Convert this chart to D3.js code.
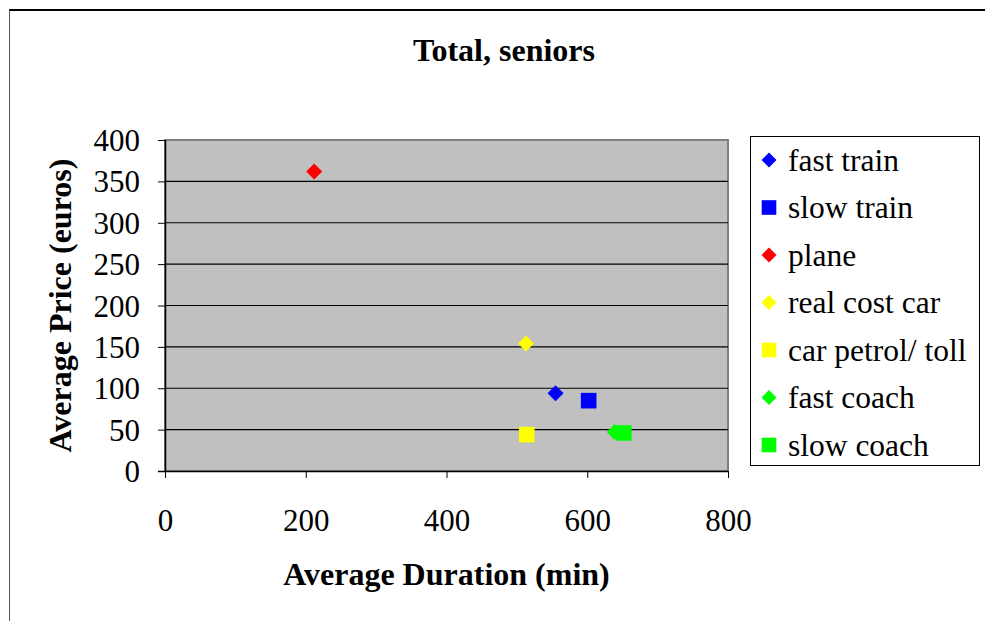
<!DOCTYPE html>
<html>
<head>
<meta charset="utf-8">
<script src="https://cdn.jsdelivr.net/npm/d3@7"></script>
<style>
  body { margin: 0; background: #fff; }
  svg { display: block; font-family: "Liberation Serif", "Times New Roman", serif; }
</style>
</head>
<body>
<svg id="chart" width="985" height="621"></svg>
<script>
// series, in legend order
var seriesNames = ["fast train", "slow train", "plane", "real cost car", "car petrol/ toll", "fast coach", "slow coach"];
var seriesColors = ["#0000ff", "#0000ff", "#ff0000", "#ffff00", "#ffff00", "#00ff00", "#00ff00"];
var seriesShapes = ["diamond", "square", "diamond", "diamond", "square", "diamond", "square"];
// average duration (min) and price (euros)
var durations = [555, 602, 212, 513, 514, 639, 652];
var prices = [94, 85, 362, 154, 44, 47, 46];

var xTicks = [0, 200, 400, 600, 800];
var yTicks = [0, 50, 100, 150, 200, 250, 300, 350, 400];

var svg = d3.select("#chart");

// outer frame
svg.append("line").attr("x1", 9).attr("x2", 985).attr("y1", 10).attr("y2", 10)
    .attr("stroke", "#000").attr("stroke-width", 2);
svg.append("line").attr("x1", 9.5).attr("x2", 9.5).attr("y1", 10).attr("y2", 621)
    .attr("stroke", "#555").attr("stroke-width", 1);

var plot = { left: 165, right: 728, top: 140, bottom: 471 };

var x = d3.scaleLinear().domain([0, 800]).range([plot.left, plot.right]);
var y = d3.scaleLinear().domain([0, 400]).range([plot.bottom, plot.top]);

// plot background
svg.append("rect")
    .attr("x", plot.left).attr("y", plot.top)
    .attr("width", plot.right - plot.left).attr("height", plot.bottom - plot.top)
    .attr("fill", "#c0c0c0")
    .attr("stroke", "#808080").attr("stroke-width", 2);

// gridlines
svg.append("g").selectAll("line")
    .data(yTicks.filter(function(d) { return d > 0 && d < 400; }))
    .enter().append("line")
    .attr("x1", plot.left).attr("x2", plot.right)
    .attr("y1", function(d) { return y(d); }).attr("y2", function(d) { return y(d); })
    .attr("stroke", "#000").attr("stroke-width", 1.2);

// axes
var xAxis = svg.append("g")
    .attr("transform", "translate(0," + plot.bottom + ")")
    .call(d3.axisBottom(x).tickValues(xTicks).tickSize(7).tickPadding(31).tickFormat(d3.format("d")));
var yAxis = svg.append("g")
    .attr("transform", "translate(" + plot.left + ",0)")
    .call(d3.axisLeft(y).tickValues(yTicks).tickSize(7).tickPadding(18).tickFormat(d3.format("d")));

[xAxis, yAxis].forEach(function(a) {
    a.select(".domain").attr("stroke", "#000").attr("stroke-width", 1.5);
    a.selectAll(".tick line").attr("stroke", "#000").attr("stroke-width", 1);
    a.selectAll(".tick text")
        .attr("font-family", "Liberation Serif, Times New Roman, serif")
        .attr("font-size", 31).attr("fill", "#000");
});
// plain axis lines instead of d3's outer-tick path
xAxis.select(".domain").attr("d", "M" + (plot.left - 7) + ",0.5H" + plot.right);
yAxis.select(".domain").attr("d", "M0.5," + plot.top + "V" + plot.bottom);
yAxis.selectAll(".tick text").attr("dy", "0.34em");

// marker shapes
function markerPath(shape, s) {
    if (shape === "diamond") {
        return "M0," + (-s) + "L" + s + ",0L0," + s + "L" + (-s) + ",0Z";
    }
    return d3.symbol().type(d3.symbolSquare).size(4 * s * s * 0.95)();
}

var points = seriesNames.map(function(name, i) {
    return { name: name, color: seriesColors[i], shape: seriesShapes[i], dur: durations[i], price: prices[i] };
});

svg.append("g").selectAll("path")
    .data(points)
    .enter().append("path")
    .attr("transform", function(d) { return "translate(" + x(d.dur) + "," + y(d.price) + ")"; })
    .attr("d", function(d) { return markerPath(d.shape, 8); })
    .attr("fill", function(d) { return d.color; });

// title and axis titles
svg.append("text")
    .attr("x", 504).attr("y", 61)
    .attr("text-anchor", "middle")
    .attr("font-weight", "bold").attr("font-size", 32)
    .text("Total, seniors");

svg.append("text")
    .attr("x", (plot.left + plot.right) / 2).attr("y", 585)
    .attr("text-anchor", "middle")
    .attr("font-weight", "bold").attr("font-size", 32)
    .text("Average Duration (min)");

svg.append("text")
    .attr("transform", "translate(71," + ((plot.top + plot.bottom) / 2) + ") rotate(-90)")
    .attr("text-anchor", "middle")
    .attr("font-weight", "bold").attr("font-size", 32)
    .text("Average Price (euros)");

// legend
var legend = svg.append("g");
legend.append("rect")
    .attr("x", 750.5).attr("y", 136.5).attr("width", 229).attr("height", 329)
    .attr("fill", "#fff").attr("stroke", "#000").attr("stroke-width", 1);

var item = legend.selectAll(".item")
    .data(points)
    .enter().append("g")
    .attr("class", "item")
    .attr("transform", function(d, i) { return "translate(769," + (160 + i * 47.5) + ")"; });

item.append("path")
    .attr("d", function(d) { return markerPath(d.shape, 7.5); })
    .attr("fill", function(d) { return d.color; });

item.append("text")
    .attr("x", 19).attr("dy", "0.34em")
    .attr("font-size", 31.5)
    .text(function(d) { return d.name; });
</script>
</body>
</html>
